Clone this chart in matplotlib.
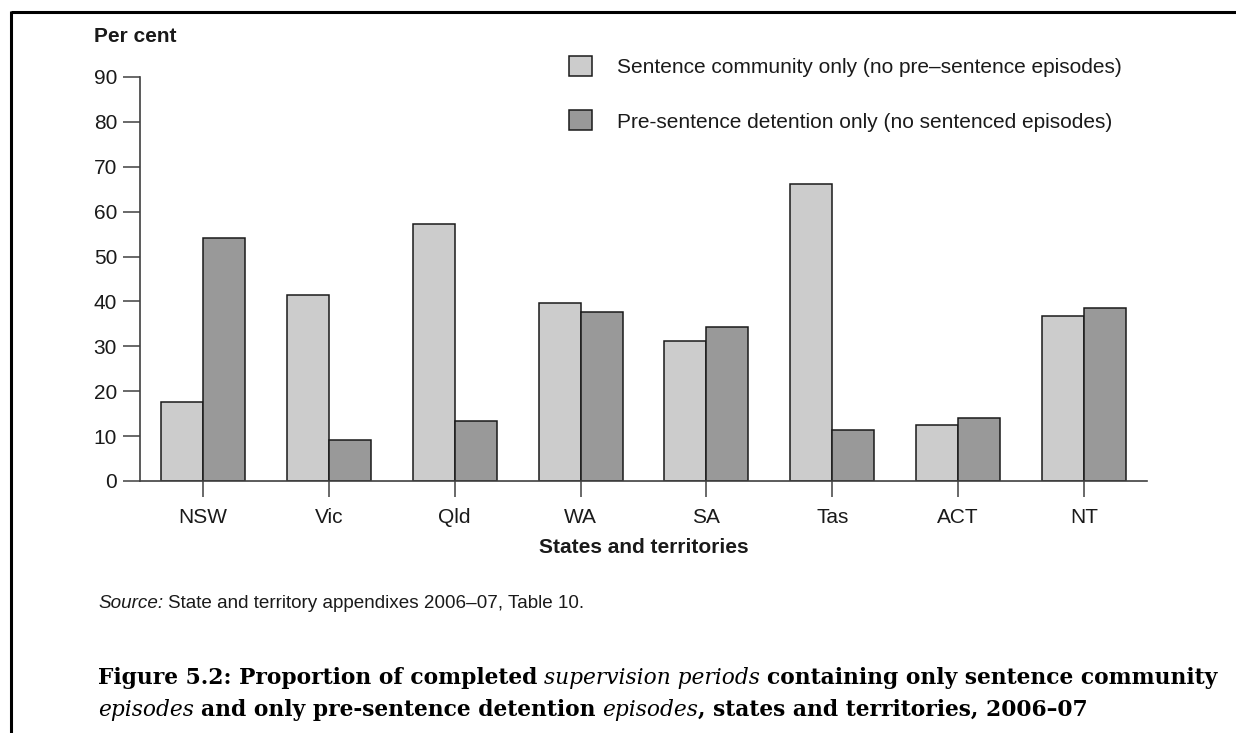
import matplotlib
matplotlib.use("Agg")
import matplotlib.pyplot as plt
import numpy as np
from matplotlib.lines import Line2D

states = ["NSW", "Vic", "Qld", "WA", "SA", "Tas", "ACT", "NT"]
community_only = [17.6, 41.4, 57.3, 39.6, 31.1, 66.1, 12.4, 36.8]
detention_only = [54.2, 9.1, 13.4, 37.7, 34.4, 11.3, 14.0, 38.5]
series_names = ["Sentence community only (no pre\u2013sentence episodes)",
                "Pre-sentence detention only (no sentenced episodes)"]
y_ticks = [0, 10, 20, 30, 40, 50, 60, 70, 80, 90]

W, H = 1236, 733
plt.rcParams["font.family"] = ["Liberation Sans", "DejaVu Sans"]

fig = plt.figure(figsize=(W / 100, H / 100), dpi=100)

def fx(px):
    return px / W

def fy(py):
    return 1 - py / H

# frame lines (top and left)
fig.add_artist(Line2D([fx(11), 1], [fy(12), fy(12)], color="black", lw=2.2,
                      transform=fig.transFigure, solid_capstyle="butt"))
fig.add_artist(Line2D([fx(11), fx(11)], [fy(11), 0], color="black", lw=2.2,
                      transform=fig.transFigure, solid_capstyle="butt"))

ax = fig.add_axes([fx(140), fy(481), (1147 - 140) / W, (481 - 77) / H])

x = np.arange(len(states))
bw = 1 / 3
ax.bar(x - bw / 2, community_only, bw, color="#cccccc", edgecolor="#1a1a1a",
       linewidth=1.1, label=series_names[0], zorder=2)
ax.bar(x + bw / 2, detention_only, bw, color="#999999", edgecolor="#1a1a1a",
       linewidth=1.1, label=series_names[1], zorder=2)

ax.set_xlim(-0.5, 7.5)
ax.set_ylim(0, 90)
ax.set_yticks(y_ticks)
ax.set_xticks(x)
ax.set_xticklabels(states)

for s in ["top", "right"]:
    ax.spines[s].set_visible(False)
for s in ["left", "bottom"]:
    ax.spines[s].set_color("#404040")
    ax.spines[s].set_linewidth(1.2)

ax.tick_params(axis="y", length=12.5, width=1.1, color="#404040", pad=4,
               labelsize=15, labelcolor="#1a1a1a")
ax.tick_params(axis="x", length=11.5, width=1.1, color="#404040", pad=8,
               labelsize=15, labelcolor="#1a1a1a")

ax.set_xlabel("States and territories", fontsize=15, fontweight="bold",
              labelpad=8, color="#1a1a1a")

fig.text(fx(94), fy(37), "Per cent", fontsize=15, fontweight="bold",
         va="center", ha="left", color="#1a1a1a")

leg = ax.legend(loc="upper left", bbox_to_anchor=(fx(569), fy(56)),
                bbox_transform=fig.transFigure, frameon=False, fontsize=15,
                handlelength=1.1, handleheight=1.1, handletextpad=1.2,
                labelspacing=1.6, borderpad=0, borderaxespad=0)
for t in leg.get_texts():
    t.set_color("#1a1a1a")


def write_runs(x0, y0, parts, size, family, color="#1a1a1a"):
    # parts: (text, style, leading_space)
    t = None
    for txt, style, gap in parts:
        kw = dict(fontsize=size, family=family, color=color,
                  fontweight="bold" if "bold" in style else "normal",
                  fontstyle="italic" if "italic" in style else "normal",
                  ha="left", va="bottom")
        if t is None:
            t = fig.text(fx(x0), fy(y0), txt, **kw)
        else:
            t = ax.annotate(txt, xy=(1, 0), xycoords=t,
                            xytext=(size * gap, 0), textcoords="offset points",
                            annotation_clip=False, **kw)
    return t


write_runs(98, 612, [("Source:", "italic", 0),
                     ("State and territory appendixes 2006\u201307, Table 10.", "", 0.28)],
           13.6, ["Liberation Sans", "DejaVu Sans"])

cap_font = ["DejaVu Serif"]
write_runs(98, 689, [("Figure 5.2: Proportion of completed", "bold", 0),
                     ("supervision periods", "italic", 0.32),
                     ("containing only sentence community", "bold", 0.32)],
           15.7, cap_font, color="black")
write_runs(98, 721, [("episodes", "italic", 0),
                     ("and only pre-sentence detention", "bold", 0.32),
                     ("episodes", "italic", 0.32),
                     (", states and territories, 2006\u201307", "bold", 0.0)],
           15.7, cap_font, color="black")

fig.savefig("out.png", dpi=100)
